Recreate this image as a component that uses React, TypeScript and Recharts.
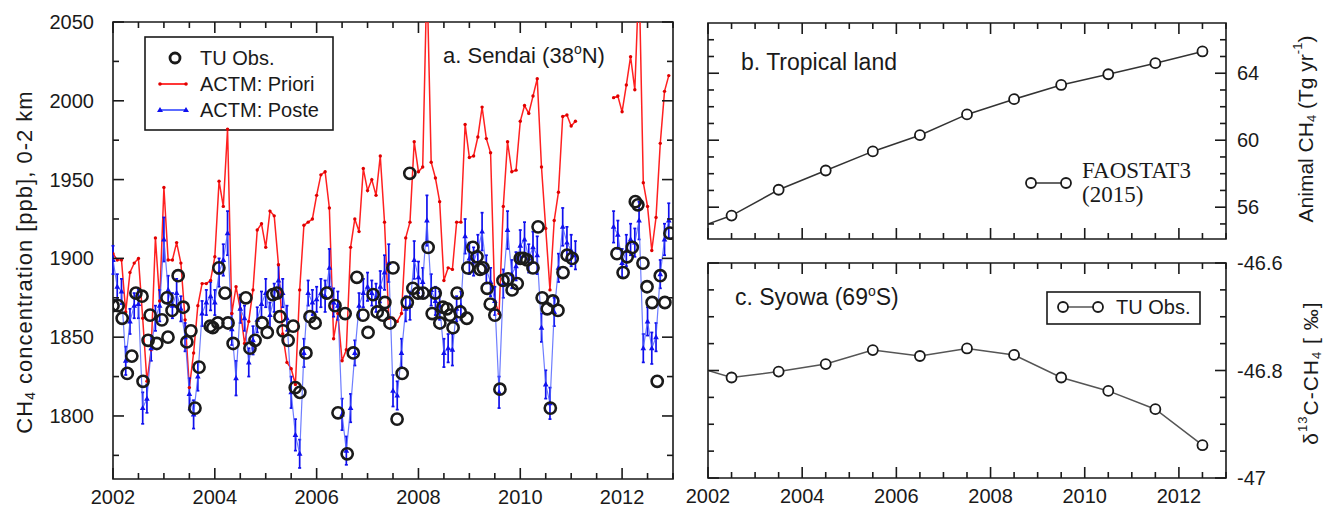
import React from 'react';
import { ComposedChart, Line, Scatter, XAxis, YAxis, ReferenceArea, ErrorBar, Customized } from 'recharts';

const INK = '#1a1a1a';
const RED = '#ff2020';
const BLUE = '#4a5cff';
const BLUE_DARK = '#1010ee';
const SANS = '"Liberation Sans", Arial, sans-serif';
const SERIF = '"Liberation Serif", "Times New Roman", serif';

// a. Sendai – monthly ACTM runs, Jan 2002 .. Dec 2012 (null = no run)
const PRIORI = [
  1903, 1899, 1899, 1866, 1891, 1897, 1900, 1862, 1822, 1842, 1913, 1873,
  1945, 1899, 1899, 1910, 1897, 1861, 1818, 1840, 1870, 1884, 1884, 1886,
  1901, 1949, 1933, 1982, 1865, 1882, 1868, 1846, 1860, 1880, 1918, 1922,
  1907, 1930, 1927, 1896, 1852, 1834, 1830, 1820, 1880, 1921, 1923, 1925,
  1940, 1953, 1955, 1932, 1849, 1865, 1835, 1842, 1907, 1925, 1917, 1957,
  1943, 1950, 1940, 1965, 1923, 1862, 1862, 1860, 1865, 1913, 1923, 1974,
  1955, 1958, 2080, 1961, 1951, 1936, 1886, 1894, 1893, 1923, 1923, 1985,
  1964, 1965, 1977, 1996, 1976, 1967, 1873, 1865, 1933, 1974, 1955, 1956,
  1987, 1997, 1992, 2003, 2014, 1958, 1919, 1880, 1924, 1942, 1990, 1991,
  1984, 1987, null, null, null, null, null, null, null, null, 2002, 2003,
  1993, 2010, 2028, 2007, 2080, 1948, 1933, 1905, 1926, 1973, 2006, 2016,
];

const POSTE = [
  1899, 1882, 1879, 1835, 1860, 1870, 1871, 1805, 1811, 1843, 1862, 1870,
  1912, 1880, 1870, 1878, 1868, 1850, 1814, 1801, 1825, 1865, 1872, 1876,
  1872, 1891, 1899, 1916, 1855, 1824, 1868, 1862, 1834, 1848, 1861, 1871,
  1878, 1864, 1875, 1886, 1878, 1862, 1815, 1788, 1776, 1840, 1878, 1872,
  1874, 1878, 1876, 1894, 1872, 1870, 1801, 1778, 1805, 1840, 1870, 1878,
  1882, 1878, 1875, 1882, 1891, 1897, 1816, 1813, 1840, 1868, 1870, 1899,
  1888, 1885, 1924, 1880, 1873, 1870, 1840, 1843, 1842, 1868, 1870, 1914,
  1900, 1898, 1905, 1917, 1893, 1885, 1873, 1815, 1884, 1918, 1890, 1895,
  1908, 1912, 1900, 1907, 1902, 1856, 1820, 1808, 1866, 1894, 1920, 1910,
  1905, 1902, null, null, null, null, null, null, null, null, 1920, 1915,
  1897, 1905, 1912, 1910, 1924, 1843, 1860, 1843, 1850, 1890, 1912, 1924,
];

const POSTE_ERR = [
  9, 8, 8, 9, 8, 8, 9, 10, 9, 8, 8, 10,
  14, 9, 8, 9, 8, 9, 10, 9, 9, 8, 8, 9,
  8, 9, 10, 14, 10, 11, 9, 8, 9, 9, 8, 8,
  9, 8, 9, 10, 9, 8, 10, 10, 9, 9, 8, 8,
  8, 9, 10, 12, 9, 9, 10, 9, 9, 8, 8, 9,
  9, 8, 9, 10, 11, 12, 10, 9, 9, 8, 9, 12,
  10, 9, 16, 10, 9, 9, 9, 9, 10, 8, 9, 11,
  10, 9, 10, 12, 9, 9, 9, 10, 9, 12, 9, 9,
  10, 11, 9, 10, 12, 9, 9, 10, 9, 9, 12, 10,
  10, 9, null, null, null, null, null, null, null, null, 10, 9,
  9, 10, 10, 9, 12, 9, 9, 10, 9, 9, 10, 11,
];

// TU flask observations (decimal year, ppb)
const OBS_T = [
  2002.0, 2002.1, 2002.18, 2002.28, 2002.37, 2002.45, 2002.57, 2002.59, 2002.69, 2002.73, 2002.86, 2002.96,
  2003.06, 2003.08, 2003.16, 2003.28, 2003.38, 2003.45, 2003.53, 2003.61, 2003.69, 2003.91, 2003.96,
  2004.06, 2004.08, 2004.2, 2004.26, 2004.36, 2004.61, 2004.69, 2004.79, 2004.93,
  2005.03, 2005.14, 2005.22, 2005.28, 2005.34, 2005.44, 2005.54, 2005.58, 2005.67, 2005.79, 2005.87, 2005.97,
  2006.2, 2006.36, 2006.42, 2006.56, 2006.6, 2006.72, 2006.79, 2006.91,
  2007.01, 2007.11, 2007.19, 2007.3, 2007.34, 2007.44, 2007.5, 2007.58, 2007.68, 2007.78, 2007.83, 2007.89, 2007.99,
  2008.09, 2008.19, 2008.27, 2008.33, 2008.42, 2008.48, 2008.56, 2008.62, 2008.68, 2008.76, 2008.82, 2008.95, 2008.97,
  2009.07, 2009.15, 2009.21, 2009.27, 2009.35, 2009.41, 2009.5, 2009.6, 2009.66, 2009.76, 2009.84, 2009.94,
  2010.0, 2010.06, 2010.13, 2010.25, 2010.35, 2010.43, 2010.53, 2010.59, 2010.64, 2010.74, 2010.84, 2010.92,
  2011.02, 2011.9,
  2012.02, 2012.1, 2012.2, 2012.26, 2012.31, 2012.41, 2012.49, 2012.59, 2012.69, 2012.75, 2012.84, 2012.94,
];
const OBS_V = [
  1870, 1870, 1862, 1827, 1838, 1878, 1876, 1822, 1848, 1864, 1846, 1861,
  1875, 1850, 1867, 1889, 1869, 1847, 1854, 1805, 1831, 1857, 1856,
  1859, 1894, 1878, 1859, 1846, 1875, 1843, 1848, 1859,
  1853, 1877, 1878, 1863, 1854, 1848, 1857, 1818, 1815, 1840, 1863, 1859,
  1878, 1870, 1802, 1865, 1776, 1840, 1888, 1864,
  1853, 1877, 1866, 1864, 1872, 1859, 1894, 1798, 1827, 1872, 1954, 1881, 1878,
  1878, 1907, 1865, 1878, 1859, 1869, 1868, 1864, 1856, 1878, 1866, 1862, 1894,
  1907, 1901, 1893, 1894, 1881, 1871, 1864, 1817, 1886, 1887, 1880, 1884,
  1900, 1900, 1899, 1894, 1920, 1875, 1868, 1805, 1873, 1867, 1891, 1902,
  1900, 1903,
  1891, 1901, 1907, 1936, 1934, 1897, 1882, 1872, 1822, 1889, 1872, 1916,
];

// b. and c. annual values at mid-year
const MID_YEARS = [2001.5, 2002.5, 2003.5, 2004.5, 2005.5, 2006.5, 2007.5, 2008.5, 2009.5, 2010.5, 2011.5, 2012.5];
const ANIMAL_CH4 = [54.5, 55.5, 57.04, 58.19, 59.33, 60.3, 61.54, 62.45, 63.3, 63.94, 64.6, 65.3];
const D13C = [-46.787, -46.813, -46.802, -46.788, -46.762, -46.773, -46.759, -46.771, -46.813, -46.838, -46.872, -46.939];

const YEAR_LABELS = [2002, 2004, 2006, 2008, 2010, 2012];
const CH4_LABELS = [1800, 1850, 1900, 1950, 2000, 2050];
const ANIMAL_LABELS = [56, 60, 64];
const D13C_LABELS = [-47, -46.8, -46.6];

const monthly = PRIORI.map((p, i) => ({
  t: 2002 + i / 12,
  priori: p,
  poste: POSTE[i],
  err: POSTE_ERR[i],
}));
const obs = OBS_T.map((t, i) => ({ t, v: OBS_V[i] }));
const animal = MID_YEARS.map((t, i) => ({ t, v: ANIMAL_CH4[i] }));
const syowa = MID_YEARS.map((t, i) => ({ t, v: D13C[i] }));

const round2 = (v: number) => Number(v.toFixed(2));
const halfYears = Array.from({ length: 23 }, (_, i) => 2002 + i * 0.5);
const ch4Ticks = Array.from({ length: 12 }, (_, i) => 1775 + i * 25);
const animalTicks = Array.from({ length: 12 }, (_, i) => 55 + i);
const d13cTicks = Array.from({ length: 9 }, (_, i) => round2(-47 + i * 0.05));

type Box = { left: number; right: number; top: number; bottom: number };

// plot boxes in each chart's own svg coordinates
const BOX_A: Box = { left: 113, right: 673, top: 22, bottom: 479 };
const BOX_B: Box = { left: 28, right: 546, top: 23, bottom: 239 };
const BOX_C: Box = { left: 28, right: 546, top: 23, bottom: 238 };

const xTick = (box: Box, showLabels: boolean) => (props: any) => {
  const { x, payload } = props;
  const v = payload.value;
  const major = YEAR_LABELS.includes(v);
  const len = major ? 11 : 6;
  return (
    <g>
      <line x1={x} x2={x} y1={box.bottom} y2={box.bottom - len} stroke={INK} strokeWidth={1.6} />
      <line x1={x} x2={x} y1={box.top} y2={box.top + len} stroke={INK} strokeWidth={1.6} />
      {showLabels && major ? (
        <text x={x} y={box.bottom + 25} textAnchor="middle" fontFamily={SANS} fontSize={20} fill={INK}>
          {v}
        </text>
      ) : null}
    </g>
  );
};

const yTick = (box: Box, labels: number[], side: 'left' | 'right') => (props: any) => {
  const { y, payload } = props;
  const v = payload.value;
  const major = labels.includes(v);
  const len = major ? 11 : 6;
  const label = String(Math.round(v * 10) / 10);
  return (
    <g>
      <line x1={box.left} x2={box.left + len} y1={y} y2={y} stroke={INK} strokeWidth={1.6} />
      <line x1={box.right} x2={box.right - len} y1={y} y2={y} stroke={INK} strokeWidth={1.6} />
      {major ? (
        <text
          x={side === 'left' ? box.left - 19 : box.right + 11}
          y={y + 7}
          textAnchor={side === 'left' ? 'end' : 'start'}
          fontFamily={SANS}
          fontSize={20}
          fill={INK}
        >
          {label}
        </text>
      ) : null}
    </g>
  );
};

const redDot = (props: any) => {
  const { cx, cy, index, value } = props;
  if (cx == null || cy == null || value == null) return <g key={index} />;
  return <circle key={index} cx={cx} cy={cy} r={1.7} fill="#e00000" />;
};

const triDot = (props: any) => {
  const { cx, cy, index, value } = props;
  if (cx == null || cy == null || value == null) return <g key={index} />;
  return (
    <path
      key={index}
      d={`M${cx},${cy - 3.2} L${cx + 2.8},${cy + 2} L${cx - 2.8},${cy + 2} Z`}
      fill={BLUE_DARK}
    />
  );
};

const ringDot = (r: number, w: number) => (props: any) => {
  const { cx, cy, index } = props;
  if (cx == null || cy == null) return <g key={index} />;
  return <circle key={index} cx={cx} cy={cy} r={r} fill="#fff" stroke={INK} strokeWidth={w} />;
};

const obsShape = (props: any) => (
  <circle cx={props.cx} cy={props.cy} r={5.6} fill="none" stroke={INK} strokeWidth={2.6} />
);

const PanelAText = () => (
  <g fontFamily={SANS} fill={INK}>
    <text
      x={24}
      y={262}
      transform="rotate(-90 24 262)"
      textAnchor="middle"
      dominantBaseline="central"
      fontSize={22}
      letterSpacing={1}
    >
      CH<tspan dy={6} fontSize={14}>4</tspan>
      <tspan dy={-6}> concentration [ppb], 0-2 km</tspan>
    </text>
    <text x={443} y={63} fontSize={22}>
      a. Sendai (38<tspan dy={-9} fontSize={14}>o</tspan>
      <tspan dy={9}>N)</tspan>
    </text>
    <rect x={145} y={37} width={188} height={93} fill="#fff" stroke={INK} strokeWidth={1.6} />
    <circle cx={175} cy={58} r={5} fill="none" stroke={INK} strokeWidth={2.8} />
    <text x={200} y={65} fontSize={20}>TU Obs.</text>
    <line x1={160} x2={186} y1={84} y2={84} stroke={RED} strokeWidth={1.8} />
    <circle cx={160} cy={84} r={1.8} fill="#e00000" />
    <circle cx={186} cy={84} r={1.8} fill="#e00000" />
    <text x={200} y={91} fontSize={20}>ACTM: Priori</text>
    <line x1={160} x2={186} y1={110} y2={110} stroke={BLUE} strokeWidth={1.8} />
    <path d="M160,107 L163,112 L157,112 Z" fill={BLUE_DARK} />
    <path d="M186,107 L189,112 L183,112 Z" fill={BLUE_DARK} />
    <text x={200} y={117} fontSize={20}>ACTM: Poste</text>
  </g>
);

const PanelBText = () => (
  <g fill={INK}>
    <text x={61} y={70} fontFamily={SANS} fontSize={23}>b. Tropical land</text>
    <line x1={351} x2={386} y1={183} y2={183} stroke="#333" strokeWidth={1.6} />
    <circle cx={351} cy={183} r={5} fill="#fff" stroke={INK} strokeWidth={1.8} />
    <circle cx={386} cy={183} r={5} fill="#fff" stroke={INK} strokeWidth={1.8} />
    <text x={402} y={178} fontFamily={SERIF} fontSize={23}>FAOSTAT3</text>
    <text x={402} y={202} fontFamily={SERIF} fontSize={23}>(2015)</text>
    <text
      x={625}
      y={129}
      transform="rotate(-90 625 129)"
      textAnchor="middle"
      dominantBaseline="central"
      fontFamily={SANS}
      fontSize={21}
    >
      Animal CH<tspan dy={6} fontSize={13}>4</tspan>
      <tspan dy={-6}> (Tg yr</tspan>
      <tspan dy={-8} fontSize={13}>-1</tspan>
      <tspan dy={8}>)</tspan>
    </text>
  </g>
);

const PanelCText = () => (
  <g fill={INK}>
    <text x={55} y={65} fontFamily={SANS} fontSize={23}>
      c. Syowa (69<tspan dy={-9} fontSize={14}>o</tspan>
      <tspan dy={9}>S)</tspan>
    </text>
    <rect x={367} y={52} width={153} height={32} fill="#fff" stroke={INK} strokeWidth={1.6} />
    <line x1={383} x2={418} y1={67} y2={67} stroke="#555" strokeWidth={1.6} />
    <circle cx={383} cy={67} r={5} fill="#fff" stroke={INK} strokeWidth={1.8} />
    <circle cx={418} cy={67} r={5} fill="#fff" stroke={INK} strokeWidth={1.8} />
    <text x={436} y={74} fontFamily={SANS} fontSize={20}>TU Obs.</text>
    <text
      x={630}
      y={133}
      transform="rotate(-90 630 133)"
      textAnchor="middle"
      dominantBaseline="central"
      fontFamily={SANS}
      fontSize={21}
      letterSpacing={1}
    >
      δ<tspan dy={-8} fontSize={13}>13</tspan>
      <tspan dy={8}>C-CH</tspan>
      <tspan dy={6} fontSize={13}>4</tspan>
      <tspan dy={-6}> [ ‰]</tspan>
    </text>
  </g>
);

export default function App() {
  return (
    <div style={{ position: 'absolute', left: 0, top: 0, width: 1330, height: 513, background: '#fff' }}>
      {/* a. Sendai */}
      <div style={{ position: 'absolute', left: 0, top: 0 }}>
        <ComposedChart width={700} height={513} data={monthly} margin={{ top: 22, right: 27, bottom: 0, left: 0 }}>
          <XAxis
            type="number"
            dataKey="t"
            domain={[2002, 2013]}
            allowDataOverflow
            ticks={halfYears}
            interval={0}
            tick={xTick(BOX_A, true)}
            tickLine={false}
            axisLine={false}
            height={34}
          />
          <YAxis
            type="number"
            domain={[1760, 2050]}
            allowDataOverflow
            ticks={ch4Ticks}
            interval={0}
            tick={yTick(BOX_A, CH4_LABELS, 'left')}
            tickLine={false}
            axisLine={false}
            width={113}
          />
          <Line
            type="linear"
            dataKey="priori"
            stroke={RED}
            strokeWidth={1.5}
            dot={redDot}
            activeDot={false}
            isAnimationActive={false}
          />
          <Line
            type="linear"
            dataKey="poste"
            stroke={BLUE}
            strokeOpacity={0.8}
            strokeWidth={1.2}
            dot={triDot}
            activeDot={false}
            isAnimationActive={false}
          >
            <ErrorBar dataKey="err" direction="y" width={1.5} stroke={BLUE_DARK} strokeWidth={1.7} />
          </Line>
          <Scatter data={obs} dataKey="v" shape={obsShape} isAnimationActive={false} />
          <ReferenceArea x1={2002} x2={2013} y1={1760} y2={2050} fill="none" stroke={INK} strokeWidth={1.6} ifOverflow="visible" />
          <Customized component={PanelAText} />
        </ComposedChart>
      </div>

      {/* b. Tropical land */}
      <div style={{ position: 'absolute', left: 680, top: 0 }}>
        <ComposedChart width={650} height={255} data={animal} margin={{ top: 23, right: 0, bottom: 0, left: 28 }}>
          <XAxis
            type="number"
            dataKey="t"
            domain={[2002, 2013]}
            allowDataOverflow
            ticks={halfYears}
            interval={0}
            tick={xTick(BOX_B, false)}
            tickLine={false}
            axisLine={false}
            height={16}
          />
          <YAxis
            type="number"
            orientation="right"
            domain={[54.1, 67]}
            allowDataOverflow
            ticks={animalTicks}
            interval={0}
            tick={yTick(BOX_B, ANIMAL_LABELS, 'right')}
            tickLine={false}
            axisLine={false}
            width={104}
          />
          <Line
            type="linear"
            dataKey="v"
            stroke="#333"
            strokeWidth={1.5}
            dot={ringDot(5, 1.8)}
            activeDot={false}
            isAnimationActive={false}
          />
          <ReferenceArea x1={2002} x2={2013} y1={54.1} y2={67} fill="none" stroke={INK} strokeWidth={1.6} ifOverflow="visible" />
          <Customized component={PanelBText} />
        </ComposedChart>
      </div>

      {/* c. Syowa */}
      <div style={{ position: 'absolute', left: 680, top: 240 }}>
        <ComposedChart width={650} height={273} data={syowa} margin={{ top: 23, right: 0, bottom: 0, left: 28 }}>
          <XAxis
            type="number"
            dataKey="t"
            domain={[2002, 2013]}
            allowDataOverflow
            ticks={halfYears}
            interval={0}
            tick={xTick(BOX_C, true)}
            tickLine={false}
            axisLine={false}
            height={35}
          />
          <YAxis
            type="number"
            orientation="right"
            domain={[-47, -46.6]}
            allowDataOverflow
            ticks={d13cTicks}
            interval={0}
            tick={yTick(BOX_C, D13C_LABELS, 'right')}
            tickLine={false}
            axisLine={false}
            width={104}
          />
          <Line
            type="linear"
            dataKey="v"
            stroke="#555"
            strokeWidth={1.5}
            dot={ringDot(5, 1.8)}
            activeDot={false}
            isAnimationActive={false}
          />
          <ReferenceArea x1={2002} x2={2013} y1={-47} y2={-46.6} fill="none" stroke={INK} strokeWidth={1.6} ifOverflow="visible" />
          <Customized component={PanelCText} />
        </ComposedChart>
      </div>
    </div>
  );
}
